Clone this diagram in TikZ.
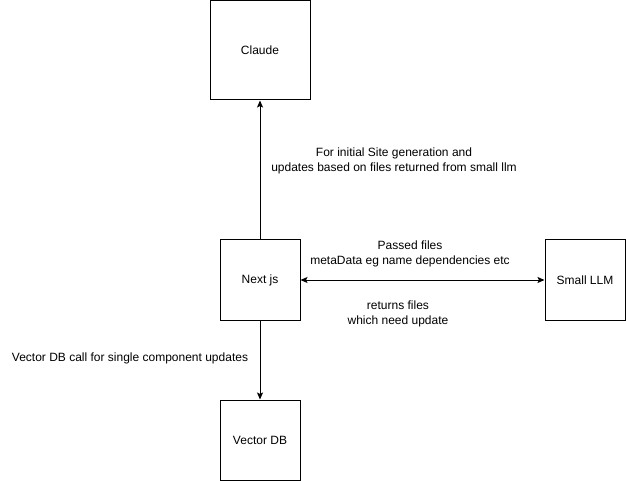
\documentclass[tikz,border=0pt]{standalone}
\usepackage{fontspec}
\setmainfont{Liberation Sans}
\usetikzlibrary{arrows.meta}
\begin{document}
\begin{tikzpicture}[x=1bp,y=-1bp,
  box/.style={draw,line width=1bp,minimum width=80bp,minimum height=80bp,inner sep=0pt,font=\fontsize{12bp}{15bp}\selectfont},
  lbl/.style={align=center,font=\fontsize{12bp}{15.5bp}\selectfont,inner sep=0pt},
  conn/.style={line width=1bp,-{Stealth[length=7bp,width=6bp,inset=1.5bp]}},
  conn2/.style={line width=1bp,{Stealth[length=7bp,width=6bp,inset=1.5bp]}-{Stealth[length=7bp,width=6bp,inset=1.5bp]}}]
\useasboundingbox (0,0) rectangle (626,481);
\node[box,minimum width=100bp,minimum height=99bp] (claude) at (260,50.5) {Claude};
\node[box] (next) at (260,280) {Next js};
\node[box] (llm) at (585,280) {Small LLM};
\node[box] (vdb) at (260,440) {Vector DB};
\draw[conn] (next) -- (claude);
\draw[conn2] (next) -- (llm);
\draw[conn] (next) -- (vdb);
\node[lbl] (l1) at (394,161) {For initial Site generation and\\updates based on files returned from small llm};
\node[lbl] (l2) at (410,254) {Passed files\\metaData eg name dependencies etc};
\node[lbl] (l3) at (398,314) {returns files\\which need update};
\node[lbl] (l4) at (130,358) {Vector DB call for single component updates};
\end{tikzpicture}
\end{document}
